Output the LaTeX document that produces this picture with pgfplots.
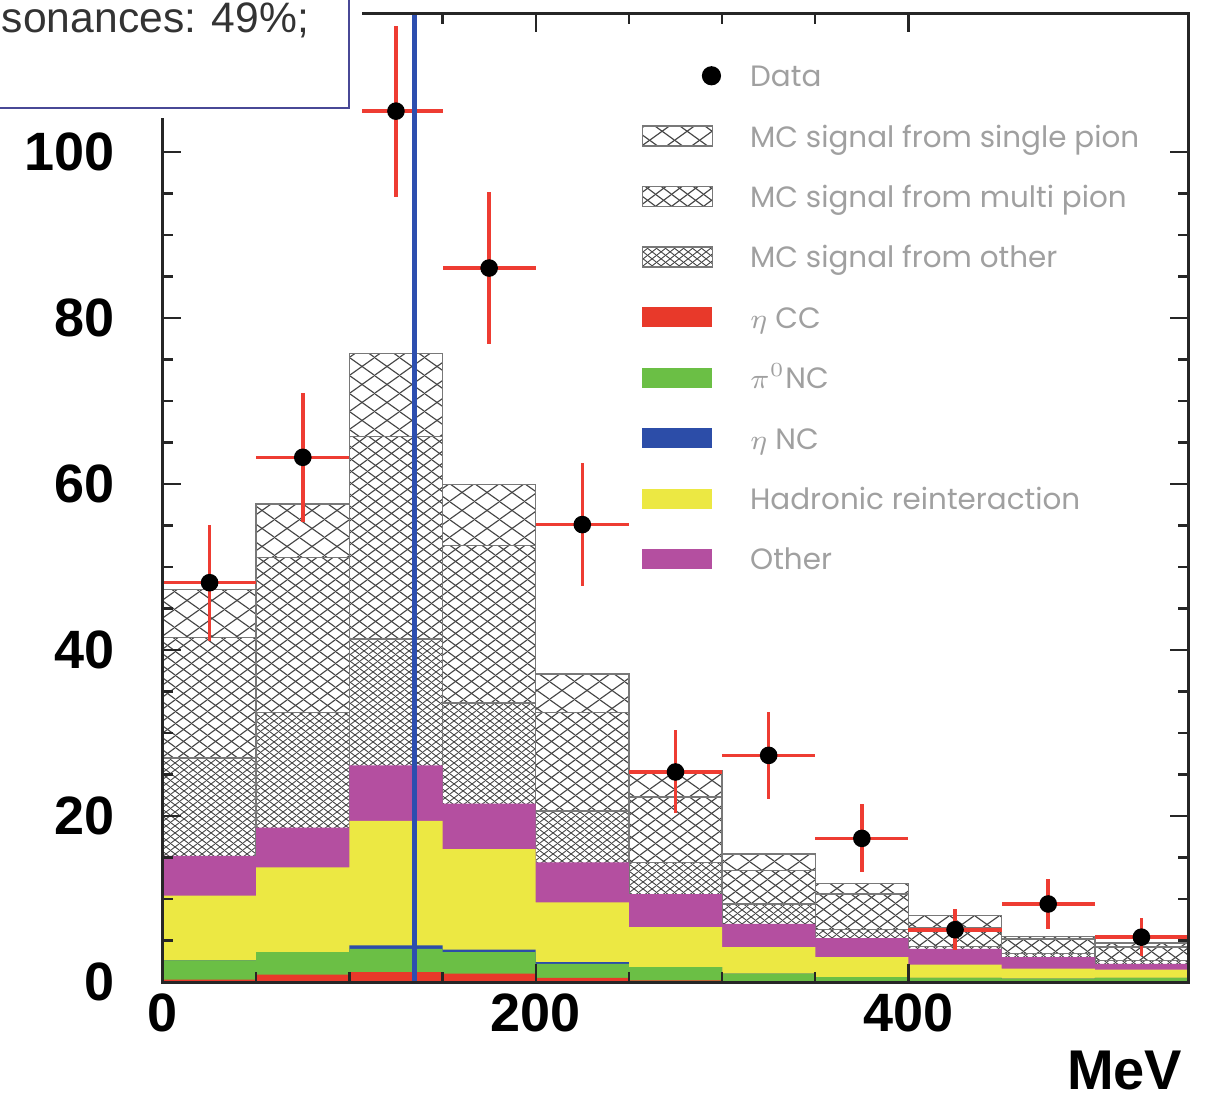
\documentclass[border=0pt]{standalone}
\usepackage{pgfplots}
\pgfplotsset{compat=1.18}
\usepackage{pgfplotstable}
\usepackage{fontspec}
\setmainfont{Liberation Sans}
\newfontfamily\legfont{Poppins}
\usetikzlibrary{patterns.meta}

\definecolor{etacc}{RGB}{232,57,42}
\definecolor{pinc}{RGB}{107,191,69}
\definecolor{etanc}{RGB}{44,77,168}
\definecolor{hadr}{RGB}{236,232,67}
\definecolor{othr}{RGB}{180,79,160}
\definecolor{hatchgray}{RGB}{70,70,70}
\definecolor{edgegray}{RGB}{120,120,120}
\definecolor{leggray}{RGB}{160,160,160}
\definecolor{boxline}{RGB}{72,72,150}
\definecolor{pimass}{RGB}{45,78,175}
\definecolor{errred}{RGB}{238,60,50}

% cross-hatch tiles in three densities
\tikzdeclarepattern{name=xhatchA, type=uncolored,
  bounding box={(0pt,0pt) and (6.25pt,4.5pt)}, tile size={(6.25pt,4.5pt)},
  code={\draw[line width=0.3pt] (-6.25pt,-4.5pt) -- (12.5pt,9pt);
        \draw[line width=0.3pt] (-6.25pt,9pt) -- (12.5pt,-4.5pt);}}
\tikzdeclarepattern{name=xhatchB, type=uncolored,
  bounding box={(0pt,0pt) and (4pt,3pt)}, tile size={(4pt,3pt)},
  code={\draw[line width=0.3pt] (-4pt,-3pt) -- (8pt,6pt);
        \draw[line width=0.3pt] (-4pt,6pt) -- (8pt,-3pt);}}
\tikzdeclarepattern{name=xhatchC, type=uncolored,
  bounding box={(0pt,0pt) and (2.25pt,1.75pt)}, tile size={(2.25pt,1.75pt)},
  code={\draw[line width=0.25pt] (-2.25pt,-1.75pt) -- (4.5pt,3.5pt);
        \draw[line width=0.25pt] (-2.25pt,3.5pt) -- (4.5pt,-1.75pt);}}

% cumulative stack heights per 50 MeV bin (lower bin edge; last row closes the range)
\pgfplotstableread{
x    red  green blue yel  mag  oth  mul  sgl
0    0.3  2.6   2.6  10.4 15.2 27.0 41.5 47.3
50   0.9  3.6   3.6  13.8 18.6 32.5 51.1 57.6
100  1.2  4.0   4.4  19.4 26.1 41.3 65.7 75.7
150  1.0  3.6   3.9  16.0 21.5 33.6 52.6 59.9
200  0.5  2.2   2.4  9.6  14.4 20.6 32.5 37.1
250  0.2  1.8   1.8  6.6  10.6 14.4 22.3 25.4
300  0.1  1.0   1.0  4.2  7.0  9.4  13.4 15.4
350  0.1  0.6   0.6  3.0  5.3  6.3  10.6 11.9
400  0.1  0.5   0.5  2.1  4.0  4.3  6.6  8.0
450  0.1  0.4   0.4  1.6  3.0  3.4  5.2  5.5
500  0.1  0.5   0.5  1.5  2.2  2.6  4.2  4.7
550  0.1  0.5   0.5  1.5  2.2  2.6  4.2  4.7
}\stacktops

% measured events with statistical errors
\pgfplotstableread{
x    y      ex   ey
25   48.1   25   7.0
75   63.2   25   7.8
125  104.9  25   10.3
175  86.0   25   9.1
225  55.1   25   7.4
275  25.3   25   5.0
325  27.3   25   5.2
375  17.3   25   4.1
425  6.3    25   2.5
475  9.4    25   3.0
525  5.4    25   2.3
}\datapts

\begin{document}
\begin{tikzpicture}
\useasboundingbox (0,0) rectangle (301.25pt,273.5pt);
\clip (0,0) rectangle (301.25pt,273.5pt);
\begin{axis}[
  at={(40.75pt,28pt)}, anchor=south west,
  scale only axis, width=256.25pt, height=242pt,
  xmin=0, xmax=550, ymin=0, ymax=116.6,
  xtick={0,200,400}, minor x tick num=3,
  ytick={0,20,40,60,80,100}, minor y tick num=3,
  major tick length=4.5pt, minor tick length=2.5pt,
  tick style={line width=0.6pt, black!85},
  axis line style={line width=0.75pt, black!85},
  axis on top,
  /pgf/number format/assume math mode=true,
  ticklabel style={font=\fontsize{13.5}{14}\selectfont\bfseries},
  yticklabel style={anchor=east, inner sep=0pt, xshift=-12pt},
  xticklabel style={anchor=north, inner sep=0pt, yshift=-2.75pt},
  xlabel={MeV},
  xlabel style={at={(axis description cs:0.9951,0)}, anchor=base east,
    inner sep=0pt, yshift=-26.75pt, font=\fontsize{14}{14}\selectfont\bfseries},
  legend cell align=left,
  legend style={at={(axis description cs:0.4663,0.9682)}, anchor=north west,
    draw=none, fill=none, inner sep=0pt, row sep=0pt, column sep=9.25pt,
    nodes={inner sep=0pt, text height=10.3pt, text depth=4.8pt,
      font=\legfont\fontsize{7.35}{8}\selectfont, text=leggray}},
]
% legend entries
\addlegendimage{legend image code/.code={
  \fill[black, draw=none, overlay] (17.25pt,0pt) circle (2.4pt);
  \path[draw=none, fill=none] (0pt,-2.5pt) rectangle (17.5pt,2.5pt);}}
\addlegendentry{Data}
\addlegendimage{legend image code/.code={
  \draw[edgegray, line width=0.35pt, fill=white, postaction={pattern=xhatchA, pattern color=hatchgray}] (0pt,-2.5pt) rectangle (17.5pt,2.5pt);}}
\addlegendentry{MC signal from single pion}
\addlegendimage{legend image code/.code={
  \draw[edgegray, line width=0.35pt, fill=white, postaction={pattern=xhatchB, pattern color=hatchgray}] (0pt,-2.5pt) rectangle (17.5pt,2.5pt);}}
\addlegendentry{MC signal from multi pion}
\addlegendimage{legend image code/.code={
  \draw[edgegray, line width=0.35pt, fill=white, postaction={pattern=xhatchC, pattern color=hatchgray}] (0pt,-2.5pt) rectangle (17.5pt,2.5pt);}}
\addlegendentry{MC signal from other}
\addlegendimage{legend image code/.code={\fill[etacc, draw=none] (0pt,-2.5pt) rectangle (17.5pt,2.5pt);}}
\addlegendentry{$\eta$ CC}
\addlegendimage{legend image code/.code={\fill[pinc, draw=none] (0pt,-2.5pt) rectangle (17.5pt,2.5pt);}}
\addlegendentry{$\pi^{0}$NC}
\addlegendimage{legend image code/.code={\fill[etanc, draw=none] (0pt,-2.5pt) rectangle (17.5pt,2.5pt);}}
\addlegendentry{$\eta$ NC}
\addlegendimage{legend image code/.code={\fill[hadr, draw=none] (0pt,-2.5pt) rectangle (17.5pt,2.5pt);}}
\addlegendentry{Hadronic reinteraction}
\addlegendimage{legend image code/.code={\fill[othr, draw=none] (0pt,-2.5pt) rectangle (17.5pt,2.5pt);}}
\addlegendentry{Other}

% stacked histogram, drawn from the top of the stack downwards
\addplot[forget plot, ybar interval, fill=white, draw=edgegray, line width=0.35pt,
  postaction={pattern=xhatchA, pattern color=hatchgray}] table[x=x, y=sgl]{\stacktops};
\addplot[forget plot, ybar interval, fill=white, draw=edgegray, line width=0.35pt,
  postaction={pattern=xhatchB, pattern color=hatchgray}] table[x=x, y=mul]{\stacktops};
\addplot[forget plot, ybar interval, fill=white, draw=edgegray, line width=0.35pt,
  postaction={pattern=xhatchC, pattern color=hatchgray}] table[x=x, y=oth]{\stacktops};
\addplot[forget plot, ybar interval, fill=othr, draw=none] table[x=x, y=mag]{\stacktops};
\addplot[forget plot, ybar interval, fill=hadr, draw=none] table[x=x, y=yel]{\stacktops};
\addplot[forget plot, ybar interval, fill=etanc, draw=none] table[x=x, y=blue]{\stacktops};
\addplot[forget plot, ybar interval, fill=pinc, draw=none] table[x=x, y=green]{\stacktops};
\addplot[forget plot, ybar interval, fill=etacc, draw=none] table[x=x, y=red]{\stacktops};

% data with error bars
\addplot[forget plot, draw=none, mark=none,
  error bars/.cd, x dir=both, x explicit, y dir=both, y explicit,
  error mark=none, error bar style={errred, line width=0.9pt}]
  table[x=x, y=y, x error=ex, y error=ey]{\datapts};
\addplot[forget plot, only marks, mark=*, mark size=2pt, black] table[x=x, y=y]{\datapts};

% neutral pion mass
\addplot[forget plot, pimass, line width=1.25pt] coordinates {(135,0) (135,116.6)};
\end{axis}

% text box overlapping the upper-left corner
\fill[white] (-5pt,244pt) rectangle (90.5pt,280pt);
\draw[boxline, line width=0.5pt] (-5pt,246.5pt) -- (87.25pt,246.5pt) -- (87.25pt,280pt);
\node[anchor=base west, inner sep=0pt, text=black!80, font=\fontsize{10.65}{12}\selectfont]
  at (0.3pt,265.25pt) {sonances: 49\%;};
\end{tikzpicture}
\end{document}
